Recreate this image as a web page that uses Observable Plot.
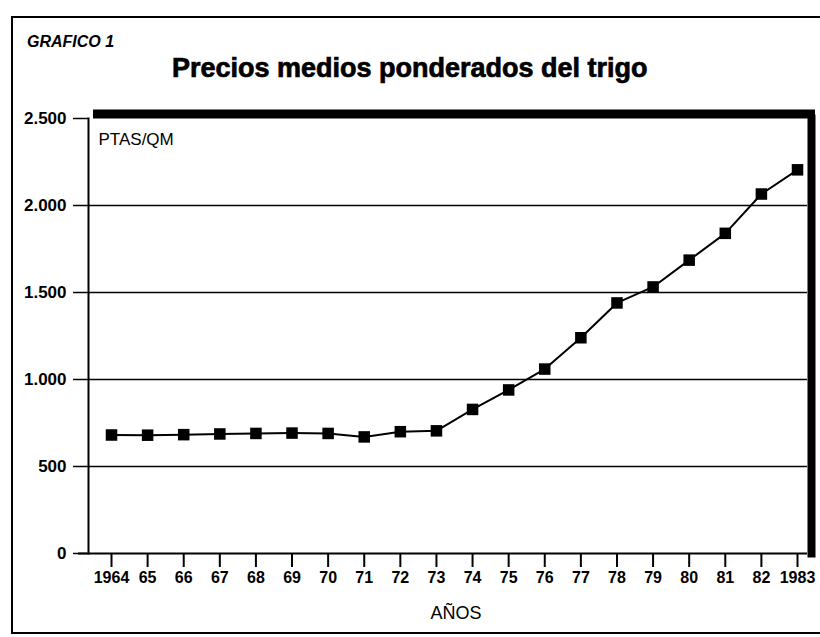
<!DOCTYPE html>
<html>
<head>
<meta charset="utf-8">
<script src="https://cdn.jsdelivr.net/npm/d3@7"></script>
<script src="https://cdn.jsdelivr.net/npm/@observablehq/plot@0.6"></script>
<style>
  html, body { margin: 0; padding: 0; background: white; }
  #wrap { position: relative; width: 820px; height: 637px; overflow: hidden; background: white; font-family: "Liberation Sans", Arial, sans-serif; color: black; }
  #box { position: absolute; left: 11px; top: 16px; width: 830px; height: 614px; border: 2px solid black; z-index: 2; pointer-events: none; }
  #kicker { position: absolute; left: 27px; top: 34px; font-size: 16px; font-style: italic; font-weight: bold; line-height: 16px; margin: 0; }
  #title { position: absolute; left: 172px; top: 55px; font-size: 27px; font-weight: bold; line-height: 27px; margin: 0; white-space: nowrap; -webkit-text-stroke: 0.7px black; }
  #chart { position: absolute; left: 0; top: 100px; z-index: 1; }
</style>
</head>
<body>
<div id="wrap">
  <div id="kicker">GRAFICO 1</div>
  <h1 id="title">Precios medios ponderados del trigo</h1>
  <div id="chart"></div>
  <div id="box"></div>
</div>
<script>
const years = [1964, 1965, 1966, 1967, 1968, 1969, 1970, 1971, 1972, 1973, 1974, 1975, 1976, 1977, 1978, 1979, 1980, 1981, 1982, 1983];
const yearLabels = ["1964", "65", "66", "67", "68", "69", "70", "71", "72", "73", "74", "75", "76", "77", "78", "79", "80", "81", "82", "1983"];
const prices = [681, 680, 683, 687, 690, 692, 690, 670, 700, 705, 828, 940, 1060, 1240, 1440, 1532, 1686, 1840, 2066, 2205];
const yTicks = [0, 500, 1000, 1500, 2000, 2500];
const gridTicks = [500, 1000, 1500, 2000];
const unitLabel = "PTAS/QM";
const xLabel = "AÑOS";

const data = years.map((year, i) => ({year, price: prices[i]}));
const fmt = d => d3.format(",")(d).replace(/,/g, ".");

const chart = Plot.plot({
  width: 820,
  height: 537,
  marginTop: 18,
  marginBottom: 84,
  marginLeft: 88,
  marginRight: 13,
  x: {type: "linear", domain: [1964, 1983], insetLeft: 23, insetRight: 10},
  y: {domain: [0, 2500]},
  style: {fontFamily: "'Liberation Sans', Arial, sans-serif", background: "transparent", color: "black", overflow: "visible"},
  marks: [
    Plot.gridY({ticks: gridTicks, stroke: "black", strokeOpacity: 1, strokeWidth: 1.4}),
    Plot.ruleY([0], {stroke: "black", strokeWidth: 2, insetLeft: -10}),
    Plot.frame({anchor: "left", stroke: "black", strokeWidth: 2}),
    Plot.axisY({ticks: yTicks, tickSize: 15, tickPadding: 7, tickFormat: fmt, fontSize: 17, fontWeight: "bold", strokeWidth: 1.5, label: null, letterSpacing: "-0.3px"}),
    Plot.axisX({ticks: years, tickSize: 14, tickPadding: 4, tickFormat: d => yearLabels[years.indexOf(d)], fontSize: 16, fontWeight: "bold", strokeWidth: 2, label: null, letterSpacing: "-0.8px"}),
    Plot.line(data, {x: "year", y: "price", stroke: "black", strokeWidth: 2}),
    Plot.dot(data, {x: "year", y: "price", symbol: "square", r: 6.5, fill: "black", stroke: "none"}),
    Plot.ruleY([2500], {stroke: "black", strokeWidth: 9, dy: -4.5, insetLeft: 5, insetRight: -8}),
    Plot.frame({anchor: "right", stroke: "black", strokeWidth: 8, dx: 4}),
    Plot.text([unitLabel], {text: d => d, frameAnchor: "top-left", dx: 10, dy: 14, lineAnchor: "top", textAnchor: "start", fontSize: 17}),
    Plot.text([xLabel], {text: d => d, frameAnchor: "bottom", dx: 8, dy: 60, lineAnchor: "middle", fontSize: 18, fontWeight: 500})
  ]
});
document.getElementById("chart").appendChild(chart);
</script>
</body>
</html>
